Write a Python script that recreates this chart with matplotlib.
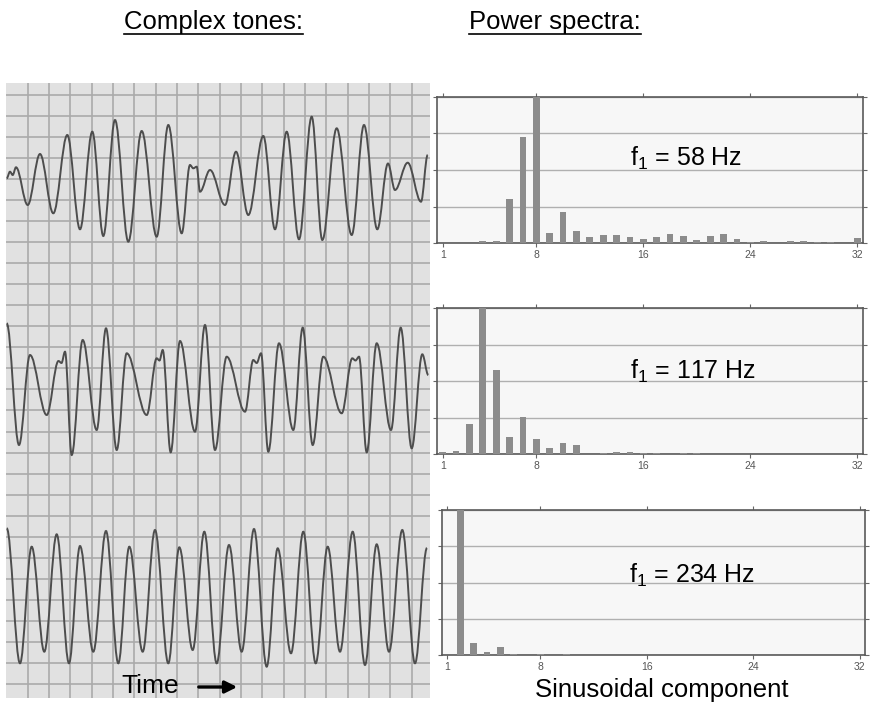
import numpy as np
import matplotlib.pyplot as plt
from matplotlib.path import Path
from matplotlib.patches import PathPatch
from matplotlib.lines import Line2D

plt.rcParams['font.family'] = ['Liberation Sans', 'DejaVu Sans']
plt.rcParams['mathtext.fontset'] = 'custom'
plt.rcParams['mathtext.rm'] = 'Liberation Sans'
plt.rcParams['mathtext.it'] = 'Liberation Sans:italic'

# complex tone waveforms: turning points (time, amplitude; arbitrary units)
tone58_t = [0.7, 4, 6.7, 10, 21.7, 34, 47.3, 61.3, 74, 86.3, 97.3, 109, 122.3, 135.7, 150.7,
            162.3, 175.7, 184, 187.3, 190.7, 194, 204, 219, 230, 242.3, 257.3, 269, 280.7, 293,
            305.7, 316.3, 330.7, 345.7, 358, 371.3, 382, 389, 401.7, 415, 421.7]
tone58_v = [0.7, 7.3, 4, 11.7, -26, 25, -34.3, 44, -50.3, 47.3, -57, 59, -62.7, 48, -57.7,
            54, -54.3, 14, 10.7, 12.3, -12.7, 9, -26, 27.3, -36, 43, -50.3, 47.3, -60.3,
            62.3, -61, 50.7, -56, 54, -50.3, 15.5, -11, 16.3, -22.7, 24]

tone117_t = [0.7, 13, 24, 40.7, 52.5, 55.5, 59, 65.7, 76.7, 90.7, 100, 110.7, 120.7, 140.7,
             150.7, 153.5, 156.7, 164.7, 174, 189, 199, 209, 220.7, 239, 247.3, 250.7, 255,
             262.3, 273, 287.3, 296.7, 306.7, 317.3, 335.7, 346.3, 349.5, 353, 360.7, 370.7,
             385, 394.7, 405.7, 416.3, 422.3]
tone117_v = [65.7, -56, 34, -26, 28, 26, 37.3, -66, 49, -41, 60.7, -61, 35.7, -26,
             30.7, 28.5, 39, -63.3, 48, -42.7, 64, -61, 32.3, -22.7, 29, 26, 35.7,
             -62.7, 45.7, -41, 61.3, -56, 32.3, -24.3, 30.7, 28.5, 32.3, -63.3, 45.7,
             -41, 61.3, -59.3, 34.7, 14]

tone234_t = [0.7, 14, 25.7, 38.3, 50.7, 63, 74, 87.3, 100, 112.3, 123.3, 136.7, 149, 162.3,
             173.3, 186.7, 198.3, 210.7, 223, 235.7, 248, 260.7, 271.7, 285, 297.3, 309.7,
             321.7, 334, 346.7, 359, 370.7, 383, 396.3, 409, 421]
tone234_v = [68.7, -66.3, 50.3, -54.7, 62.7, -66.3, 51, -54.7, 66, -66.3, 50.3, -54.7, 67, -66.3,
             49.7, -53, 65.3, -66.3, 52, -54.7, 68, -69.7, 48.7, -56.3, 65.3, -66.3,
             50.3, -54.7, 65.3, -68, 52.7, -54.7, 67, -66.3, 49]

# power spectra, relative power of sinusoidal components 1..32
harmonics = np.arange(1, 33)
power58 = [0, 0, 0, 0.016, 0.018, 0.30, 0.723, 1.0, 0.068, 0.214, 0.082, 0.043, 0.057, 0.057,
           0.043, 0.030, 0.045, 0.064, 0.052, 0.023, 0.050, 0.064, 0.030, 0.011, 0.016, 0,
           0.016, 0.018, 0.009, 0.009, 0, 0.039]
power117 = [0.014, 0.021, 0.205, 1.0, 0.575, 0.119, 0.256, 0.105, 0.046, 0.075, 0.064, 0,
            0.007, 0.014, 0.014, 0.007, 0.007, 0, 0.007, 0.007, 0, 0, 0.005, 0, 0, 0, 0, 0,
            0, 0, 0, 0]
power234 = [0, 1.0, 0.083, 0.023, 0.06, 0.009, 0, 0.007, 0, 0.007] + [0] * 22
labels = ['f$_1$ = 58 Hz', 'f$_1$ = 117 Hz', 'f$_1$ = 234 Hz']

W, H = 872, 709


def box(l, t, r, b):
    return [l / W, (H - b) / H, (r - l) / W, (b - t) / H]


def smooth_wave(t, v, y0):
    # cubic segments with flat tangents at each turning point
    verts = [(t[0], y0 + v[0])]
    codes = [Path.MOVETO]
    for i in range(1, len(t)):
        d = (t[i] - t[i - 1]) * 0.36
        verts += [(t[i - 1] + d, y0 + v[i - 1]), (t[i] - d, y0 + v[i]), (t[i], y0 + v[i])]
        codes += [Path.CURVE4] * 3
    return Path(verts, codes)


fig = plt.figure(figsize=(W / 100, H / 100), dpi=100)

# left panel: waveforms
ax = fig.add_axes(box(6, 83, 430, 698))
ax.set_facecolor('#e1e1e1')
ax.set_xlim(0, 424)
ax.set_ylim(0, 615)
for k in range(1, 20):
    ax.axvline(21.33 * k + 0.4, color='#aaaaaa', lw=1.2, zorder=1)
for k in range(0, 29):
    ax.axhline(14 + 21.04 * k, color='#aaaaaa', lw=1.2, zorder=1)
for t, v, y0 in [(tone58_t, tone58_v, 519), (tone117_t, tone117_v, 309), (tone234_t, tone234_v, 101)]:
    ax.add_patch(PathPatch(smooth_wave(t, v, y0), fill=False, edgecolor='#4d4d4d', lw=1.4, zorder=3))
ax.set_xticks([])
ax.set_yticks([])
for s in ax.spines.values():
    s.set_visible(False)
ax.text(115, 12, 'Time', fontsize=19, va='center', ha='left', zorder=4)
ax.annotate('', xy=(234, 11), xytext=(190, 11),
            arrowprops=dict(arrowstyle='-|>', color='black', lw=2.4, mutation_scale=18), zorder=4)

# right panels: spectra
boxes = [box(437.3, 96.7, 862.7, 243.3), box(437.3, 308.3, 862.7, 454.3), box(441.7, 510, 865, 655.3)]
label_pos = [(15.0, 0.58), (15.0, 0.57), (14.65, 0.55)]
for b, p, lab, lp in zip(boxes, [power58, power117, power234], labels, label_pos):
    sx = fig.add_axes(b)
    sx.set_facecolor('#f7f7f7')
    sx.bar(harmonics, p, width=0.5, color='#8c8c8c', zorder=3)
    sx.set_xlim(0.6, 32.4)
    sx.set_ylim(0, 1)
    sx.set_xticks([1, 8, 16, 24, 32])
    sx.set_yticks([0, 0.25, 0.5, 0.75, 1])
    sx.set_yticklabels([])
    sx.grid(axis='y', color='#b0b0b0', lw=1, zorder=1)
    sx.tick_params(direction='out', length=3, width=0.8, color='#666666', top=True, right=True,
                   labelsize=7.5, labelcolor='#555555', pad=2)
    for s in sx.spines.values():
        s.set_color('#5a5a5a')
        s.set_linewidth(1.2)
    sx.text(lp[0], lp[1], lab, fontsize=18, va='center', ha='left', zorder=4)

t1 = fig.text(213 / W, 1 - 22 / H, 'Complex tones:', ha='center', va='center', fontsize=18.5)
t2 = fig.text(555 / W, 1 - 22 / H, 'Power spectra:', ha='center', va='center', fontsize=18.5)
fig.text(662 / W, 1 - 690 / H, 'Sinusoidal component', ha='center', va='center', fontsize=18.5)

fig.canvas.draw()
r = fig.canvas.get_renderer()
for t in (t1, t2):
    bb = t.get_window_extent(r)
    y = bb.y0 / H
    fig.add_artist(Line2D([bb.x0 / W, bb.x1 / W], [y, y], color='black', lw=1.2))

fig.savefig('out.png', dpi=100)
